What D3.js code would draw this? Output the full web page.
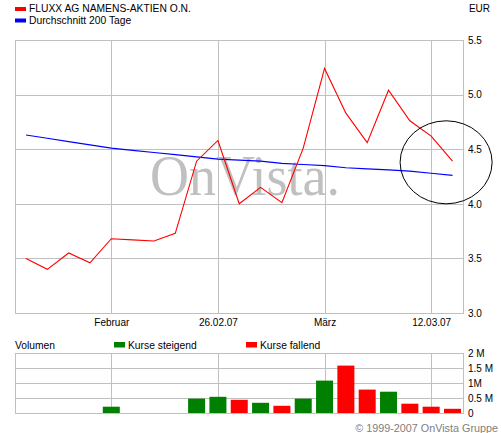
<!DOCTYPE html>
<html><head><meta charset="utf-8">
<script src="https://cdn.jsdelivr.net/npm/d3@7"></script>
<style>
html,body{margin:0;padding:0;background:#fff;}
svg{display:block;font-family:"Liberation Sans",Arial,sans-serif;}
</style></head>
<body>
<svg id="c" width="501" height="433"></svg>
<script>
// ---- data ----
const seriesName = "FLUXX AG NAMENS-AKTIEN O.N.";
const avgName = "Durchschnitt 200 Tage";
const currency = "EUR";
const price = [3.50,3.40,3.55,3.46,3.68,3.67,3.66,3.73,4.39,4.58,4.00,4.15,4.01,4.51,5.24,4.83,4.56,5.04,4.76,4.62,4.39];
const avg200 = [4.63,4.60,4.57,4.54,4.51,4.49,4.47,4.45,4.43,4.41,4.40,4.39,4.37,4.36,4.35,4.33,4.32,4.31,4.30,4.28,4.26];
const volume = [0,0,0,0,0.21,0,0,0,0.48,0.54,0.44,0.34,0.24,0.48,1.08,1.58,0.78,0.71,0.31,0.21,0.14]; // millions
const xTickIdx = [4,9,14,19];
const xTickLabels = ["Februar","26.02.07","März","12.03.07"];
const priceTicks = [3.0,3.5,4.0,4.5,5.0,5.5];
const priceTickLabels = ["3.0","3.5","4.0","4.5","5.0","5.5"];
const volTicks = [0,0.5,1,1.5,2];
const volTickLabels = ["0","0.5 M","1M","1.5 M","2 M"];
const volLegend = ["Kurse steigend","Kurse fallend"];

// ---- layout ----
const svg = d3.select("#c");
const L = 15, R = 463;
const pTop = 40, pBot = 313;
const vTop = 353, vBot = 413;
const grid = "#c0c0c0";
const FONT = '"Liberation Sans",Arial,sans-serif';

const x = d3.scaleLinear().domain([0, price.length - 1]).range([26, 452.5]);
const y = d3.scaleLinear().domain([3, 5.5]).range([pBot, pTop]);
const yv = d3.scaleLinear().domain([0, 2]).range([vBot, vTop]);

// ---- legend ----
const leg = [[seriesName, "#ff0000", 12], [avgName, "#0000ff", 23.5]];
leg.forEach(([t, c, by]) => {
  svg.append("rect").attr("x", 15).attr("y", by - 5).attr("width", 11).attr("height", 4).attr("fill", c);
  svg.append("text").attr("x", 29).attr("y", by).attr("font-size", 10.3).attr("font-family", FONT).text(t);
});
svg.append("text").attr("x", 490).attr("y", 12).attr("text-anchor", "end").attr("font-size", 10).attr("font-family", FONT).text(currency);

// ---- price grid ----
const gp = svg.append("g");
gp.selectAll("line.h").data(priceTicks).join("line")
  .attr("x1", L).attr("x2", R).attr("y1", d => Math.round(y(d)) + 0.5).attr("y2", d => Math.round(y(d)) + 0.5)
  .attr("stroke", grid);
gp.selectAll("line.v").data(xTickIdx).join("line")
  .attr("x1", d => Math.round(x(d)) + 0.5).attr("x2", d => Math.round(x(d)) + 0.5)
  .attr("y1", pTop).attr("y2", pBot).attr("stroke", grid);
gp.append("rect").attr("x", L + 0.5).attr("y", pTop + 0.5).attr("width", R - L).attr("height", pBot - pTop)
  .attr("fill", "none").attr("stroke", grid);

// watermark
svg.append("text").attr("x", 150).attr("y", 195).attr("font-family", '"Liberation Serif","Times New Roman",serif')
  .attr("font-size", 56).attr("fill", "#c0c0c0").attr("textLength", 190).attr("lengthAdjust", "spacingAndGlyphs")
  .text("OnVista.");

// price axis labels
const ay = svg.append("g").attr("transform", `translate(${R},0)`)
  .call(d3.axisRight(y).tickValues(priceTicks).tickSize(0).tickPadding(5)
    .tickFormat((d, i) => priceTickLabels[i]));
ay.select(".domain").remove();
ay.selectAll("text").attr("font-family", FONT).attr("font-size", 10).attr("fill", "#000");

// x axis labels
const ax = svg.append("g").attr("transform", `translate(0,${pBot})`)
  .call(d3.axisBottom(x).tickValues(xTickIdx).tickSize(0).tickPadding(6)
    .tickFormat((d, i) => xTickLabels[i]));
ax.select(".domain").remove();
ax.selectAll("text").attr("font-family", FONT).attr("font-size", 10).attr("fill", "#000");

// lines
const line = d3.line().x((d, i) => x(i)).y(d => y(d));
svg.append("path").datum(avg200).attr("d", line).attr("fill", "none").attr("stroke", "#0000ff").attr("stroke-width", 1.2);
svg.append("path").datum(price).attr("d", line).attr("fill", "none").attr("stroke", "#ff0000").attr("stroke-width", 1.1);

// highlight ellipse
svg.append("ellipse").attr("cx", x(19.7)).attr("cy", y(4.38)).attr("rx", 46).attr("ry", 41.5)
  .attr("fill", "none").attr("stroke", "#000").attr("stroke-width", 1);

// ---- volume ----
svg.append("text").attr("x", 15).attr("y", 348.5).attr("font-size", 10.3).attr("font-family", FONT).text("Volumen");
[[volLegend[0], "#008000", 114], [volLegend[1], "#ff0000", 246]].forEach(([t, c, lx]) => {
  svg.append("rect").attr("x", lx).attr("y", 342).attr("width", 11).attr("height", 5.5).attr("fill", c);
  svg.append("text").attr("x", lx + 14).attr("y", 348.5).attr("font-size", 10.3).attr("font-family", FONT).text(t);
});

const gv = svg.append("g");
gv.selectAll("line.h").data(volTicks).join("line")
  .attr("x1", L).attr("x2", R).attr("y1", d => Math.round(yv(d)) + 0.5).attr("y2", d => Math.round(yv(d)) + 0.5)
  .attr("stroke", grid);
gv.selectAll("line.v").data(xTickIdx).join("line")
  .attr("x1", d => Math.round(x(d)) + 0.5).attr("x2", d => Math.round(x(d)) + 0.5)
  .attr("y1", vTop).attr("y2", vBot).attr("stroke", grid);
gv.append("rect").attr("x", L + 0.5).attr("y", vTop + 0.5).attr("width", R - L).attr("height", vBot - vTop)
  .attr("fill", "none").attr("stroke", grid);

const bw = 17;
svg.append("g").selectAll("rect").data(volume).join("rect")
  .attr("x", (d, i) => x(i) - bw / 2)
  .attr("y", d => yv(d))
  .attr("width", bw)
  .attr("height", d => yv(0) - yv(d))
  .attr("fill", (d, i) => (i > 0 && price[i] < price[i - 1]) ? "#ff0000" : "#008000");

const avv = svg.append("g").attr("transform", `translate(${R},0)`)
  .call(d3.axisRight(yv).tickValues(volTicks).tickSize(0).tickPadding(5)
    .tickFormat((d, i) => volTickLabels[i]));
avv.select(".domain").remove();
avv.selectAll("text").attr("font-family", FONT).attr("font-size", 10).attr("fill", "#000");

// copyright
svg.append("text").attr("x", 498).attr("y", 431.5).attr("text-anchor", "end").attr("font-size", 10.8)
  .attr("font-family", FONT).attr("fill", "#808080").text("© 1999-2007 OnVista Gruppe");
</script>
</body></html>
